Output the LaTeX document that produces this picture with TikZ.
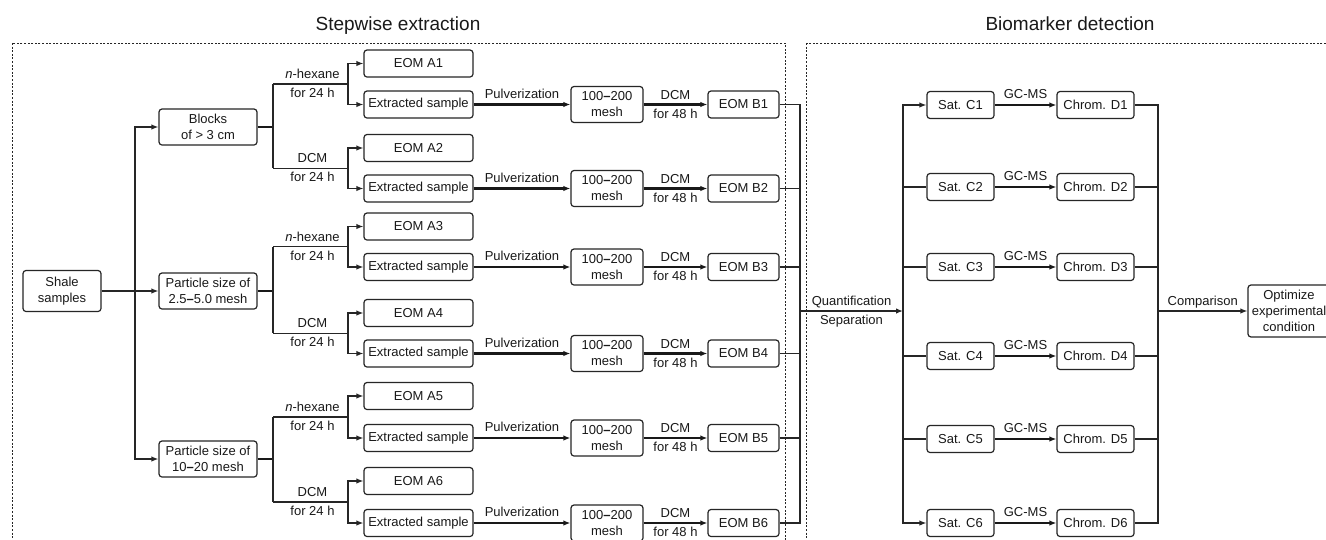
\documentclass[tikz,border=0pt]{standalone}
\usepackage{fontspec}
\setmainfont{Liberation Sans}
\usetikzlibrary{arrows.meta}
\newcommand{\fs}{\fontsize{13}{16}\selectfont}
\newcommand{\bdash}{{\bfseries –}}
\begin{document}
\begin{tikzpicture}[x=1pt,y=-1pt,
  every node/.style={text=black!90},
  box/.style={draw=black!85, line width=1.2pt, rounded corners=3pt, inner sep=0pt, align=center, font=\fs},
  pbox/.style={box, minimum width=98pt, minimum height=36pt},
  abox/.style={box, minimum width=109pt, minimum height=27pt},
  mbox/.style={box, minimum width=72pt, minimum height=36pt},
  bbox/.style={box, minimum width=71pt, minimum height=27pt},
  cbox/.style={box, minimum width=67pt, minimum height=27pt},
  dbox/.style={box, minimum width=77pt, minimum height=27pt},
  conn/.style={line width=1.35pt, draw=black!85},
  thk/.style={line width=2.4pt, draw=black!90},
  arw/.style={-{Latex[length=7pt,width=5.5pt]}},
  arwb/.style={{Latex[length=7pt,width=5.5pt]}-{Latex[length=7pt,width=5.5pt]}},
  up/.style={font=\fs, anchor=base, inner sep=0pt, yshift=5.5pt},
  dn/.style={font=\fs, anchor=base, inner sep=0pt, yshift=-13.7pt},
  ttl/.style={font=\fontsize{19}{23}\selectfont, anchor=base, inner sep=0pt},
  dframe/.style={line width=1pt, dash pattern=on 2pt off 1.6pt, draw=black!85}
]
\useasboundingbox (0,0) rectangle (1326,539);
\fill[white] (0,0) rectangle (1326,539);
\clip (0,0) rectangle (1326,539);

% titles and frames
\node[ttl] (t1) at (398,30) {Stepwise extraction};
\node[ttl] (t2) at (1070,30) {Biomarker detection};
\draw[dframe] (12,43) rectangle (785,600);
\draw[dframe] (806,43) rectangle (1400,600);

% left part
\node[box, minimum width=78pt, minimum height=41pt] (shale) at (62,291) {Shale\\samples};
\node[pbox] (p1) at (208,127) {Blocks\\of > 3 cm};
\node[pbox] (p2) at (208,291) {Particle size of\\2.5\bdash5.0 mesh};
\node[pbox] (p3) at (208,459) {Particle size of\\10\bdash20 mesh};
\coordinate (tk) at (135,291);
\draw[conn, arw] (shale.east) -- (p2.west);
\draw[conn, arw] (tk) |- (p1.west);
\draw[conn, arw] (tk) |- (p3.west);

% rows
\foreach \i/\a/\e/\s in {1/63.5/104.5/{\textit{n}-hexane}, 2/148/188.5/DCM, 3/226.5/267/{\textit{n}-hexane}, 4/313/353.5/DCM, 5/396/438/{\textit{n}-hexane}, 6/481/523/DCM}{
  \node[abox] (A\i) at (418.5,\a) {EOM A\i};
  \node[abox] (E\i) at (418.5,\e) {Extracted sample};
  \node[mbox] (M\i) at (607,\e) {100\bdash200\\mesh};
  \node[bbox] (B\i) at (743.5,\e) {EOM B\i};
  \pgfmathsetmacro\m{(\a+\e)/2}
  \coordinate (bs\i) at (273,\m);
  \coordinate (br\i) at (348,\m);
  \draw[conn] (bs\i) -- (br\i) node[midway, up, xshift=2pt] {\s} node[midway, dn, xshift=2pt] {for 24 h};
  \draw[conn, arw] (br\i) |- (A\i.west);
  \draw[conn, arw] (br\i) |- (E\i.west);
  \draw[thk, arw] (E\i.east) -- (M\i.west) node[midway, up, yshift=1pt] {Pulverization};
  \draw[thk, arw] (M\i.east) -- (B\i.west) node[midway, up] {DCM} node[midway, dn] {for 48 h};
}
\foreach \g/\x/\y in {1/1/2, 2/3/4, 3/5/6}{
  \draw[thk] (p\g.east) -- (p\g.east -| bs1);
  \draw[conn] (bs\x) -- (bs\y);
}

% left bus
\coordinate (lb) at (800,311);
\coordinate (rb) at (903,311);
\draw[conn] (B1.east) -| (lb) |- (B6.east);
\foreach \i in {2,3,4,5}{ \draw[conn] (B\i.east) -- (B\i.east -| lb); }
\draw[conn, arw] (lb) -- (rb) node[midway, up] {Quantification} node[midway, dn] {Separation};

% right part
\foreach \i/\c in {1/105, 2/187, 3/267, 4/356, 5/439, 6/523}{
  \node[cbox] (S\i) at (960.5,\c) {Sat. C\i};
  \node[dbox] (D\i) at (1095.5,\c) {Chrom. D\i};
  \draw[thk, arw] (S\i.east) -- (D\i.west) node[midway, up, yshift=1.5pt] {GC-MS};
}
\draw[conn, arwb] (S1.west) -| (rb) |- (S6.west);
\foreach \i in {2,3,4,5}{ \draw[conn] (S\i.west -| rb) -- (S\i.west); }
\coordinate (ob) at (1158,311);
\draw[conn] (D1.east) -| (ob) |- (D6.east);
\foreach \i in {2,3,4,5}{ \draw[conn] (D\i.east) -- (D\i.east -| ob); }
\node[box, minimum width=82pt, minimum height=52pt] (opt) at (1289,311) {Optimize\\experimental\\condition};
\draw[conn, arw] (ob) -- (opt.west) node[midway, up] {Comparison};
\end{tikzpicture}
\end{document}
